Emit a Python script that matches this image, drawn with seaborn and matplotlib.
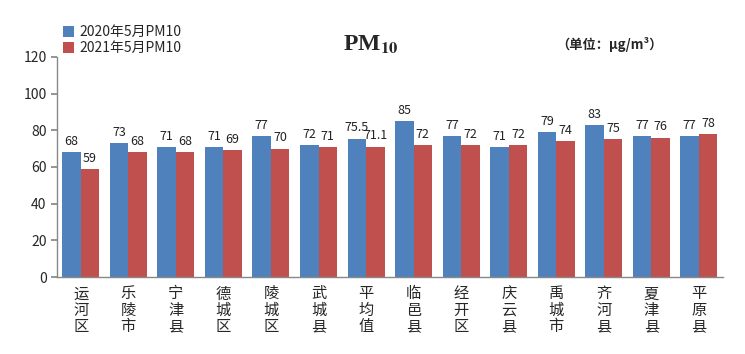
import matplotlib
matplotlib.use("Agg")
import matplotlib.pyplot as plt
import seaborn as sns
import pandas as pd

categories = ["运河区", "乐陵市", "宁津县", "德城区", "陵城区", "武城县", "平均值",
              "临邑县", "经开区", "庆云县", "禹城市", "齐河县", "夏津县", "平原县"]
pm2020 = [68, 73, 71, 71, 77, 72, 75.5, 85, 77, 71, 79, 83, 77, 77]
pm2021 = [59, 68, 68, 69, 70, 71, 71.1, 72, 72, 72, 74, 75, 76, 78]
series_names = ["2020年5月PM10", "2021年5月PM10"]
yticks = [0, 20, 40, 60, 80, 100, 120]

sns.set_theme(style="white")
plt.rcParams['font.family'] = ['Noto Sans CJK SC', 'DejaVu Sans']

df = pd.DataFrame({
    "cat": categories * 2,
    "val": pm2020 + pm2021,
    "series": [series_names[0]] * len(categories) + [series_names[1]] * len(categories),
})

fig = plt.figure(figsize=(7.45, 3.54), dpi=100)
ax = fig.add_axes([0.0765, 0.2175, 0.8935, 0.6215])

sns.barplot(data=df, x="cat", y="val", hue="series", order=categories,
            hue_order=series_names, palette=["#4F81BD", "#C0504D"],
            width=0.78, saturation=1, ax=ax, legend=True, linewidth=0,
            edgecolor="none")

def fmt(v):
    return f"{v:g}"

for cont, vals in zip(ax.containers, [pm2020, pm2021]):
    ax.bar_label(cont, labels=[fmt(v) for v in vals], padding=3, fontsize=9,
                 color="#222222")

ax.set_ylim(0, 120)
ax.set_xlim(-0.5, len(categories) - 0.5)
ax.set_yticks(yticks)
ax.set_yticklabels([str(t) for t in yticks], fontsize=10)
ax.set_xticks(range(len(categories)))
ax.set_xticklabels(["\n".join(c) for c in categories], fontsize=11, linespacing=0.95)
ax.tick_params(axis="x", length=0, pad=6)
ax.set_xticks([i + 0.5 for i in range(-1, len(categories))], minor=True)
ax.tick_params(axis="x", which="minor", length=4, direction="out", color="#888888")
ax.tick_params(axis="y", length=4, direction="out", color="#888888", left=True)
ax.set_xlabel("")
ax.set_ylabel("")
for s in ["top", "right"]:
    ax.spines[s].set_visible(False)
for s in ["left", "bottom"]:
    ax.spines[s].set_color("#888888")
    ax.spines[s].set_linewidth(1)

leg = ax.legend(loc="upper left", bbox_to_anchor=(0.0, 1.17), frameon=False,
                fontsize=10, handlelength=0.8, handleheight=0.8, handletextpad=0.4,
                labelspacing=0.15, borderaxespad=0)

fig.text(0.497, 0.872, r"PM$_{\mathbf{10}}$", fontsize=17, fontweight="bold",
         family="Liberation Serif", ha="center", va="center",
         math_fontfamily="stix")
fig.text(0.818, 0.873, "（单位：μg/m³）", fontsize=9.5, fontweight="bold",
         ha="center", va="center")

fig.savefig("out.png", dpi=100)
